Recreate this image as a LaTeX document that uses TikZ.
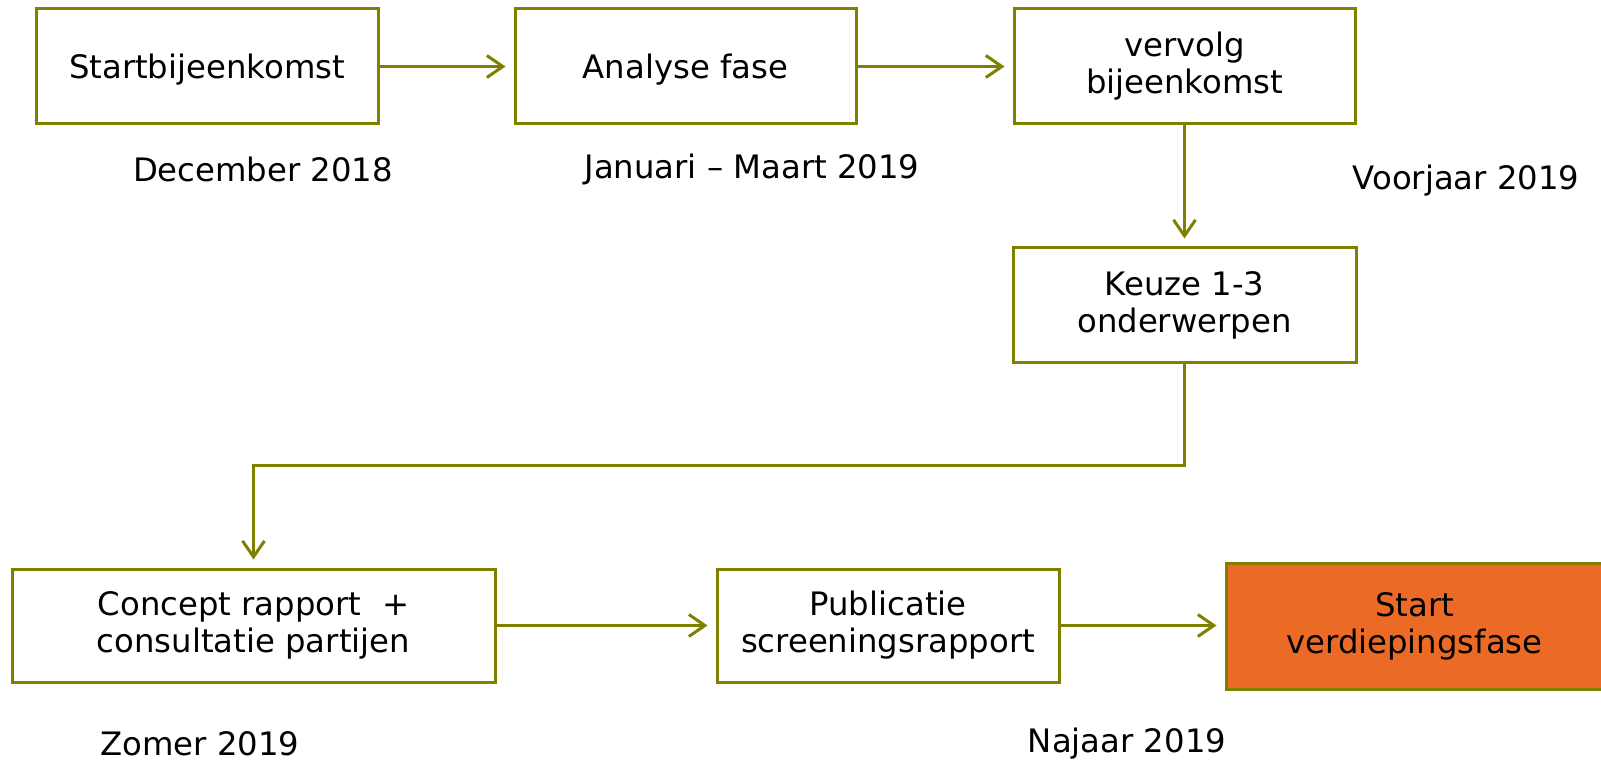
\documentclass[tikz,border=0pt]{standalone}
\usepackage{fontspec}
\setmainfont{DejaVu Sans}
\usetikzlibrary{arrows.meta}
\definecolor{olive}{HTML}{808000}
\definecolor{orng}{HTML}{EB6B26}
\tikzset{
  box/.style={draw=olive, line width=3pt, fill=white, inner sep=0pt, align=center,
    font=\fontsize{32.3}{37}\selectfont},
  oneline/.style={text height=27pt, text depth=3.5pt},
  datelbl/.style={inner sep=0pt, font=\fontsize{32.3}{37}\selectfont},
  arr/.style={draw=olive, line width=3pt, -{Straight Barb[length=16pt,width=22pt,line width=3pt]}, shorten >=8pt},
}
\begin{document}
\begin{tikzpicture}[x=1pt,y=-1pt]
\useasboundingbox (0,0) rectangle (1601,762);
\node[box, oneline, minimum width=342pt, minimum height=115pt] (b1) at (207,66.5) {Startbijeenkomst};
\node[box, oneline, minimum width=341pt, minimum height=115pt] (b2) at (685.5,66.5) {Analyse fase};
\node[box, minimum width=341pt, minimum height=115pt] (b3) at (1184.5,66.5) {vervolg\\bijeenkomst};
\node[box, minimum width=343pt, minimum height=114pt] (b4) at (1184.5,305) {Keuze 1-3\\onderwerpen};
\node[box, minimum width=483pt, minimum height=113pt] (b5) at (253.5,625.5) {Concept rapport~~+\\consultatie partijen};
\node[box, minimum width=342pt, minimum height=113pt] (b6) at (888,625.5) {Publicatie\\screeningsrapport};
\node[box, fill=orng, minimum width=377pt, minimum height=126pt] (b7) at (1414.5,626) {Start\\verdiepingsfase};

\node[datelbl] (d1) at (263,169) {December 2018};
\node[datelbl] (d2) at (752,169) {Januari – Maart 2019};
\node[datelbl] (d3) at (1466,181) {Voorjaar 2019};
\node[datelbl] (d4) at (200,744) {Zomer 2019};
\node[datelbl] (d5) at (1127,744) {Najaar 2019};

\coordinate (bend) at (1184.5,465);
\draw[arr] (b1) -- (b2);
\draw[arr] (b2) -- (b3);
\draw[arr] (b3) -- (b4);
\draw[arr] (b4.south) -- (bend) -| (b5.north);
\draw[arr] (b5) -- (b6);
\draw[arr] (b6.east) -- (b6.east -| b7.west);
\end{tikzpicture}
\end{document}
